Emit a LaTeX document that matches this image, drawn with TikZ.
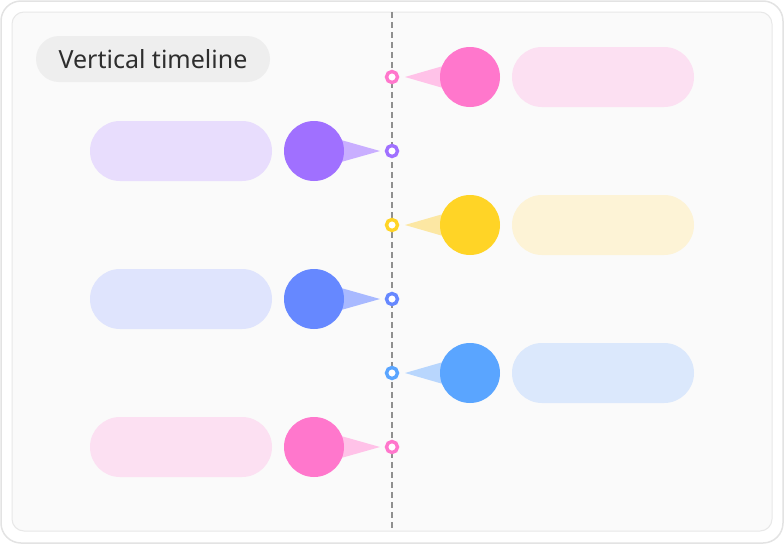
\documentclass[tikz,border=0pt]{standalone}
\usepackage{fontspec}
\setmainfont{Noto Sans}
\definecolor{framegray}{HTML}{E3E3E3}
\definecolor{innerfill}{HTML}{FAFAFA}
\definecolor{innerline}{HTML}{E8E8E8}
\definecolor{dashgray}{HTML}{8F8F8F}
\definecolor{titlefill}{HTML}{EEEEEE}
\definecolor{titletext}{HTML}{2E2E2E}
\definecolor{pinkC}{HTML}{FF77CC}\definecolor{pinkT}{HTML}{FFC2E8}\definecolor{pinkP}{HTML}{FCE0F2}
\definecolor{purC}{HTML}{A070FF}\definecolor{purT}{HTML}{C9AEFF}\definecolor{purP}{HTML}{E8DDFD}
\definecolor{yelC}{HTML}{FFD426}\definecolor{yelT}{HTML}{FCE7A3}\definecolor{yelP}{HTML}{FDF3D6}
\definecolor{bluC}{HTML}{6688FF}\definecolor{bluT}{HTML}{A8B9FF}\definecolor{bluP}{HTML}{DFE4FD}
\definecolor{skyC}{HTML}{5AA5FF}\definecolor{skyT}{HTML}{B8D6FD}\definecolor{skyP}{HTML}{DBE8FC}
\tikzset{
  bigdot/.style={circle, fill=#1, minimum size=60pt, inner sep=0pt},
  pill/.style={rounded corners=30pt, fill=#1, minimum width=182pt, minimum height=60pt, inner sep=0pt},
  tdot/.style={circle, draw=#1, line width=3.4pt, fill=white, minimum size=11pt, inner sep=0pt},
}
\newcommand{\rightitem}[5]{% name, y, circle, tri, pill
  \fill[#4] (405,#2) -- (450,#2-13) -- (450,#2+13) -- cycle;
  \node[bigdot=#3] (#1c) at (470,#2) {};
  \node[pill=#5] (#1p) at (603,#2) {};
  \node[tdot=#3] (#1d) at (392,#2) {};
}
\newcommand{\leftitem}[5]{%
  \fill[#4] (380,#2) -- (334,#2-13) -- (334,#2+13) -- cycle;
  \node[bigdot=#3] (#1c) at (314,#2) {};
  \node[pill=#5] (#1p) at (181,#2) {};
  \node[tdot=#3] (#1d) at (392,#2) {};
}
\begin{document}
\begin{tikzpicture}[x=1pt,y=-1pt]
\useasboundingbox (0,0) rectangle (784,544);
\draw[framegray, line width=1.5pt, fill=white, rounded corners=20pt] (1,1) rectangle (783,543);
\draw[innerline, line width=1pt, fill=innerfill, rounded corners=12pt] (12,12) rectangle (772,531);
\draw[dashgray, line width=1.4pt, dash pattern=on 6pt off 4pt] (392,12) -- (392,531);
\node[fill=titlefill, rounded corners=23pt, minimum width=234pt, minimum height=46pt, inner sep=0pt, text=titletext, font=\fontsize{25}{30}\selectfont] (title) at (153,59) {Vertical timeline};
\rightitem{a}{77}{pinkC}{pinkT}{pinkP}
\leftitem{b}{151}{purC}{purT}{purP}
\rightitem{c}{225}{yelC}{yelT}{yelP}
\leftitem{d}{299}{bluC}{bluT}{bluP}
\rightitem{e}{373}{skyC}{skyT}{skyP}
\leftitem{f}{447}{pinkC}{pinkT}{pinkP}
\end{tikzpicture}
\end{document}
